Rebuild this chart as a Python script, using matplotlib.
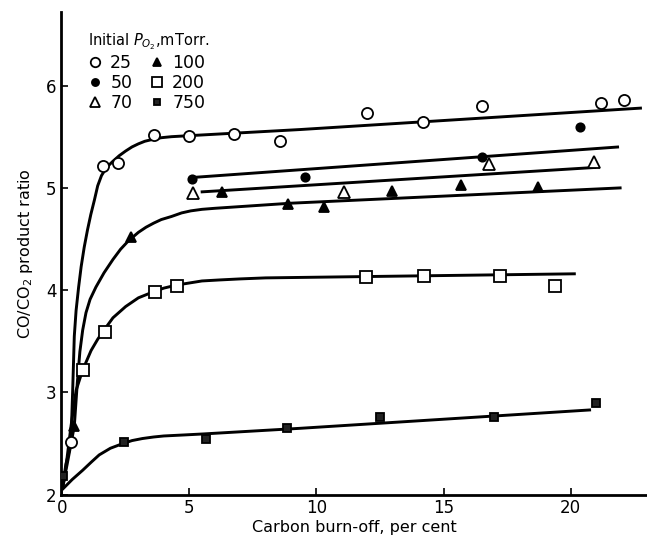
import matplotlib

matplotlib.use("Agg")
import matplotlib.pyplot as plt
from matplotlib.lines import Line2D

# measured points, per initial O2 pressure (mTorr)
p25_x = [0.35, 1.6, 2.2, 3.6, 5.0, 6.75, 8.55, 12.0, 14.2, 16.5, 21.2, 22.1]
p25_y = [2.52, 5.21, 5.24, 5.52, 5.51, 5.53, 5.46, 5.73, 5.64, 5.80, 5.83, 5.86]
p50_x = [5.1, 9.57, 16.5, 20.35]
p50_y = [5.09, 5.11, 5.30, 5.59]
p70_x = [5.13, 11.1, 16.8, 20.9]
p70_y = [4.95, 4.96, 5.23, 5.25]
p100_x = [0.48, 2.7, 6.3, 8.9, 10.3, 12.97, 15.7, 18.7]
p100_y = [2.67, 4.52, 4.96, 4.84, 4.81, 4.97, 5.03, 5.01]
p200_x = [0.81, 1.7, 3.65, 4.5, 11.95, 14.24, 17.2, 19.4]
p200_y = [3.22, 3.59, 3.98, 4.04, 4.13, 4.14, 4.14, 4.04]
p750_x = [0.05, 2.43, 5.65, 8.85, 12.5, 17.0, 21.0]
p750_y = [2.18, 2.52, 2.55, 2.65, 2.76, 2.76, 2.90]

# hand-drawn fit curves
c25_x = [0.0, 0.15, 0.3, 0.35, 0.42, 0.48, 0.55, 0.65, 0.75, 0.87, 1.0,
         1.13, 1.27, 1.4, 1.55, 1.75, 2.0, 2.25, 2.5, 2.75, 3.0, 3.25, 3.5,
         3.9, 4.3, 5.0, 9.37, 22.8]
c25_y = [2.05, 2.3, 2.45, 2.52, 3.05, 3.55, 3.80, 4.03, 4.23, 4.42, 4.59,
         4.74, 4.88, 5.02, 5.12, 5.20, 5.26, 5.315, 5.36, 5.40, 5.43, 5.455,
         5.47, 5.49, 5.50, 5.51, 5.57, 5.78]
c100_x = [0.0, 0.2, 0.48, 0.6, 0.7, 0.81, 0.94, 1.1, 1.33, 1.65, 2.0, 2.3,
          2.6, 3.0, 3.3, 3.6, 3.9, 4.3, 4.7, 5.06, 5.5, 6.0, 9.0, 22.0]
c100_y = [2.05, 2.3, 2.67, 3.1, 3.4, 3.61, 3.78, 3.91, 4.03, 4.17, 4.30,
          4.40, 4.48, 4.565, 4.615, 4.655, 4.69, 4.72, 4.755, 4.775, 4.79,
          4.80, 4.85, 5.00]
c200_x = [0.0, 0.09, 0.35, 0.55, 0.81, 1.14, 1.4, 1.65, 2.0, 2.5, 3.0,
          3.55, 4.0, 4.5, 5.0, 5.5, 6.2, 7.0, 8.0, 20.2]
c200_y = [2.05, 2.15, 2.67, 3.02, 3.22, 3.41, 3.52, 3.61, 3.73, 3.84,
          3.925, 3.98, 4.02, 4.05, 4.07, 4.09, 4.10, 4.11, 4.12, 4.16]
c750_x = [0.0, 0.4, 0.81, 1.15, 1.46, 1.9, 2.38, 2.75, 3.16, 3.6, 4.0,
          4.8, 5.57, 9.37, 20.8]
c750_y = [2.05, 2.15, 2.24, 2.32, 2.39, 2.455, 2.50, 2.53, 2.55, 2.565,
          2.575, 2.585, 2.595, 2.65, 2.83]
l50_x = [5.05, 21.9]
l50_y = [5.10, 5.40]
l70_x = [5.45, 21.0]
l70_y = [4.96, 5.20]

LW = 2.1


def main() -> None:
    fig = plt.figure(figsize=(6.47, 5.39), dpi=100)
    ax = fig.add_axes([0.094, 0.082, 0.906, 0.896])

    for cx, cy in [(c25_x, c25_y), (c100_x, c100_y), (c200_x, c200_y),
                   (c750_x, c750_y), (l50_x, l50_y), (l70_x, l70_y)]:
        ax.plot(cx, cy, color="black", lw=LW, solid_capstyle="butt",
                solid_joinstyle="round", zorder=2)

    styles = [
        ("25", p25_x, p25_y, "o", "white", 8),
        ("50", p50_x, p50_y, "o", "black", 6),
        ("70", p70_x, p70_y, "^", "white", 9),
        ("100", p100_x, p100_y, "^", "black", 7),
        ("200", p200_x, p200_y, "s", "white", 8),
        ("750", p750_x, p750_y, "s", "#222222", 5.5),
    ]
    handles = []
    for lab, xs, ys, m, fc, ms in styles:
        ax.plot(xs, ys, ls="none", marker=m, ms=ms, mfc=fc, mec="black",
                mew=1.3, zorder=3)
        handles.append(Line2D([], [], ls="none", marker=m, ms=ms * 0.85,
                              mfc=fc, mec="black", mew=1.3, label=lab))

    ax.legend(handles=handles, ncol=2, frameon=False, loc="upper left",
              bbox_to_anchor=(0.025, 0.985),
              title=r"Initial $P_{O_2}$,mTorr.", title_fontsize=10.5,
              fontsize=12.5, handlelength=0.8, handletextpad=0.5,
              columnspacing=1.0, labelspacing=0.12, alignment="left",
              borderpad=0.2)

    ax.set_xlim(-0.05, 23.0)
    ax.set_ylim(2.0, 6.72)
    ax.set_xticks([0, 5, 10, 15, 20])
    ax.set_yticks([2, 3, 4, 5, 6])
    ax.tick_params(direction="in", length=5, width=1.2, labelsize=12,
                   pad=3)
    for s in ("top", "right"):
        ax.spines[s].set_visible(False)
    for s in ("left", "bottom"):
        ax.spines[s].set_linewidth(2)
    ax.set_xlabel("Carbon burn-off, per cent", fontsize=11.5, labelpad=2)
    ax.set_ylabel(r"CO/CO$_2$ product ratio", fontsize=11.5, labelpad=8)

    fig.savefig("out.png", dpi=100)
    plt.close(fig)


if __name__ == "__main__":
    main()
